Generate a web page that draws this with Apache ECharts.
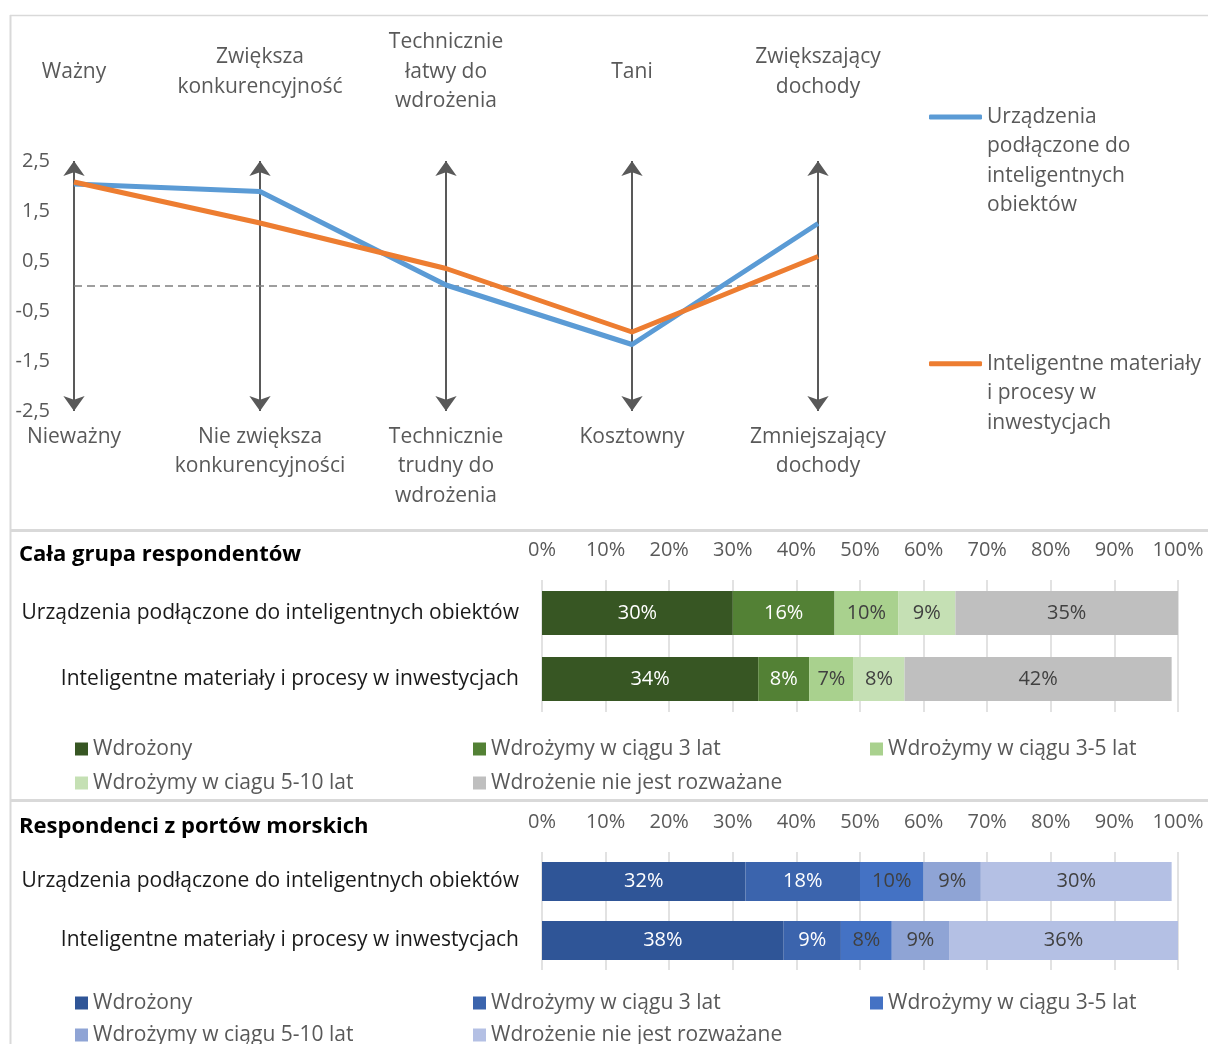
<!DOCTYPE html>
<html>
<head>
<meta charset="utf-8">
<script src="https://cdn.jsdelivr.net/npm/echarts@6/dist/echarts.min.js"></script>
<style>
  html, body { margin: 0; padding: 0; background: #ffffff; }
  #chart { width: 1208px; height: 1044px; }
</style>
</head>
<body>
<div id="chart"></div>
<script>
// ---- Perception profile (semantic differential) ----
const positivePoles = ['Ważny', 'Zwiększa\nkonkurencyjność', 'Technicznie\nłatwy do\nwdrożenia', 'Tani', 'Zwiększający\ndochody'];
const negativePoles = ['Nieważny', 'Nie zwiększa\nkonkurencyjności', 'Technicznie\ntrudny do\nwdrożenia', 'Kosztowny', 'Zmniejszający\ndochody'];
const technologyNames = ['Urządzenia podłączone do inteligentnych obiektów', 'Inteligentne materiały i procesy w inwestycjach'];
const technologyLegendText = ['Urządzenia\npodłączone do\ninteligentnych\nobiektów', 'Inteligentne materiały\ni procesy w\ninwestycjach'];
const devicesScores = [2.04, 1.89, 0.02, -1.17, 1.25];
const materialsScores = [2.08, 1.26, 0.35, -0.92, 0.59];
const scoreMin = -2.5;
const scoreMax = 2.5;

// ---- Implementation status (% of respondents) ----
const barCategories = ['Urządzenia podłączone do inteligentnych obiektów', 'Inteligentne materiały i procesy w inwestycjach'];
const allGroupTitle = 'Cała grupa respondentów';
const portsTitle = 'Respondenci z portów morskich';
const allStatusNames = ['Wdrożony', 'Wdrożymy w ciągu 3 lat', 'Wdrożymy w ciągu 3-5 lat', 'Wdrożymy w ciagu 5-10 lat', 'Wdrożenie nie jest rozważane'];
const portStatusNames = ['Wdrożony', 'Wdrożymy w ciągu 3 lat', 'Wdrożymy w ciągu 3-5 lat', 'Wdrożymy w ciągu 5-10 lat', 'Wdrożenie nie jest rozważane'];
// one array per status, values for [devices, materials]
const allImplemented = [30, 34];
const allWithin3 = [16, 8];
const allWithin3to5 = [10, 7];
const allWithin5to10 = [9, 8];
const allNotConsidered = [35, 42];
const portImplemented = [32, 38];
const portWithin3 = [18, 9];
const portWithin3to5 = [10, 8];
const portWithin5to10 = [9, 9];
const portNotConsidered = [30, 36];

const allValues = [allImplemented, allWithin3, allWithin3to5, allWithin5to10, allNotConsidered];
const portValues = [portImplemented, portWithin3, portWithin3to5, portWithin5to10, portNotConsidered];

const FONT = '"Open Sans", "Noto Sans", sans-serif';
const GREY_TEXT = '#595959';
const greenColors = ['#375623', '#538135', '#A9D18E', '#C5E0B4', '#BFBFBF'];
const blueColors = ['#2F5597', '#3B64AD', '#4472C4', '#8FA4D5', '#B4C0E4'];
const labelColors = ['#ffffff', '#ffffff', '#404040', '#404040', '#404040'];
const lineColors = ['#5B9BD5', '#ED7D31'];

const chart = echarts.init(document.getElementById('chart'), null, { renderer: 'canvas' });

function commaNumber(v) {
  return v.toFixed(1).replace('.', ',');
}

function statusSeries(names, values, colors, stack, xIdx, yIdx, barWidth) {
  return names.map((name, i) => ({
    type: 'bar',
    name: name,
    stack: stack,
    xAxisIndex: xIdx,
    yAxisIndex: yIdx,
    barWidth: barWidth,
    data: values[i],
    itemStyle: { color: colors[i] },
    label: {
      show: true,
      position: 'inside',
      formatter: p => p.value + '%',
      fontFamily: FONT,
      fontSize: 20,
      color: labelColors[i]
    },
    emphasis: { disabled: true },
    silent: true
  }));
}

// Three legend columns per bar panel
function statusLegends(names, colors, top, gap) {
  const columns = [[0, 3], [1, 4], [2]];
  const lefts = [75, 473, 870];
  return columns.map((idx, c) => ({
    orient: 'vertical',
    left: lefts[c],
    top: top,
    height: 120,
    padding: 0,
    itemWidth: 13,
    itemHeight: 13,
    itemGap: gap,
    itemTextGap: 5,
    icon: 'rect',
    selectedMode: false,
    data: idx.map(i => ({ name: names[i], itemStyle: { color: colors[i] } })),
    textStyle: { fontFamily: FONT, fontSize: 21, color: GREY_TEXT, lineHeight: 24 }
  }));
}

function percentAxis(gridIndex) {
  return {
    type: 'value',
    gridIndex: gridIndex,
    position: 'top',
    min: 0,
    max: 100,
    interval: 10,
    axisLine: { show: false },
    axisTick: { show: false },
    axisLabel: { formatter: '{value}%', fontFamily: FONT, fontSize: 20, color: GREY_TEXT, margin: 20 },
    splitLine: { show: true, lineStyle: { color: '#D9D9D9', width: 1.5 } }
  };
}

function categoryAxis(gridIndex) {
  return {
    type: 'category',
    gridIndex: gridIndex,
    inverse: true,
    data: barCategories,
    axisLine: { show: false },
    axisTick: { show: false },
    axisLabel: { fontFamily: FONT, fontSize: 21, color: '#1A1A1A', margin: 23 }
  };
}

// Legend text is padded with leading blank lines so the icon sits beside the first line
function legendText(name) {
  const text = technologyLegendText[technologyNames.indexOf(name)];
  const lines = text.split('\n').length;
  return '\n'.repeat(lines - 1) + text;
}

const lineLegendCommon = {
  orient: 'vertical',
  left: 929,
  padding: 0,
  itemWidth: 53,
  itemHeight: 5,
  itemTextGap: 4,
  icon: 'roundRect',
  selectedMode: false,
  formatter: legendText,
  textStyle: { fontFamily: FONT, fontSize: 21, color: GREY_TEXT, lineHeight: 29.5 }
};

const option = {
  backgroundColor: '#ffffff',
  animation: false,
  textStyle: { fontFamily: FONT },
  title: [
    { text: allGroupTitle, left: 19, top: 544, padding: 0,
      textStyle: { fontFamily: FONT, fontSize: 22, fontWeight: 'bold', color: '#000000' } },
    { text: portsTitle, left: 19, top: 816, padding: 0,
      textStyle: { fontFamily: FONT, fontSize: 22, fontWeight: 'bold', color: '#000000' } }
  ],
  legend: [
    Object.assign({}, lineLegendCommon, { top: 13.75, data: [{ name: technologyNames[0] }] }),
    Object.assign({}, lineLegendCommon, { top: 290, data: [{ name: technologyNames[1] }] })
  ].concat(statusLegends(allStatusNames, greenColors, 737, 10))
   .concat(statusLegends(portStatusNames, blueColors, 991, 8)),
  grid: [
    { left: 74, top: 161, width: 744, height: 250, containLabel: false, outerBoundsMode: 'none' },
    { left: 542, top: 580, width: 636, height: 132, containLabel: false, outerBoundsMode: 'none' },
    { left: 542, top: 852, width: 636, height: 118, containLabel: false, outerBoundsMode: 'none' }
  ],
  xAxis: [
    {
      type: 'category',
      gridIndex: 0,
      position: 'bottom',
      boundaryGap: false,
      data: negativePoles,
      axisLine: { show: false },
      axisTick: { show: false },
      axisLabel: { fontFamily: FONT, fontSize: 21, color: GREY_TEXT, margin: 11, verticalAlign: 'top', lineHeight: 29.5, interval: 0 }
    },
    {
      type: 'category',
      gridIndex: 0,
      position: 'top',
      boundaryGap: false,
      data: positivePoles,
      axisLine: { show: false },
      axisTick: { show: false },
      axisLabel: { fontFamily: FONT, fontSize: 21, color: GREY_TEXT, margin: 89, verticalAlign: 'middle', lineHeight: 29.5, interval: 0 }
    },
    percentAxis(1),
    percentAxis(2)
  ],
  yAxis: [
    {
      type: 'value',
      gridIndex: 0,
      min: scoreMin,
      max: scoreMax,
      interval: 1,
      axisLine: { show: false },
      axisTick: { show: false },
      splitLine: { show: false },
      axisLabel: { formatter: commaNumber, fontFamily: FONT, fontSize: 20, color: GREY_TEXT, margin: 24 }
    },
    categoryAxis(1),
    categoryAxis(2)
  ],
  graphic: [
    { type: 'line', shape: { x1: 10, y1: 15.5, x2: 1208, y2: 15.5 }, style: { stroke: '#D9D9D9', lineWidth: 1.5 }, silent: true },
    { type: 'line', shape: { x1: 10.5, y1: 15, x2: 10.5, y2: 1044 }, style: { stroke: '#D9D9D9', lineWidth: 2 }, silent: true },
    { type: 'rect', shape: { x: 10, y: 529, width: 1198, height: 3 }, style: { fill: '#D9D9D9' }, silent: true },
    { type: 'rect', shape: { x: 10, y: 799, width: 1198, height: 3 }, style: { fill: '#D9D9D9' }, silent: true }
  ],
  series: [
    // double-headed scale arrows and the neutral reference line
    {
      type: 'line',
      name: 'scale',
      xAxisIndex: 0,
      yAxisIndex: 0,
      data: negativePoles.map(() => null),
      z: 1,
      silent: true,
      markLine: {
        silent: true,
        z: 1,
        symbol: ['arrow', 'arrow'],
        symbolSize: [16, 15],
        label: { show: false },
        emphasis: { disabled: true },
        lineStyle: { color: '#595959', width: 2, type: 'solid' },
        data: negativePoles.map((c, i) => ({ xAxis: i }))
      }
    },
    {
      type: 'line',
      name: 'neutral',
      xAxisIndex: 0,
      yAxisIndex: 0,
      data: negativePoles.map(() => null),
      z: 1,
      silent: true,
      markLine: {
        silent: true,
        z: 1,
        symbol: 'none',
        label: { show: false },
        emphasis: { disabled: true },
        lineStyle: { color: '#7F7F7F', width: 1.5, type: [8, 5] },
        data: [{ yAxis: 0 }]
      }
    },
    {
      type: 'line',
      name: technologyNames[0],
      xAxisIndex: 0,
      yAxisIndex: 0,
      data: devicesScores,
      symbol: 'none',
      z: 4,
      color: lineColors[0],
      lineStyle: { width: 5, color: lineColors[0], join: 'round' },
      emphasis: { disabled: true },
      silent: true
    },
    {
      type: 'line',
      name: technologyNames[1],
      xAxisIndex: 0,
      yAxisIndex: 0,
      data: materialsScores,
      symbol: 'none',
      z: 5,
      color: lineColors[1],
      lineStyle: { width: 5, color: lineColors[1], join: 'round' },
      emphasis: { disabled: true },
      silent: true
    }
  ].concat(statusSeries(allStatusNames, allValues, greenColors, 'all', 2, 1, 44))
   .concat(statusSeries(portStatusNames, portValues, blueColors, 'ports', 3, 2, 39))
};

chart.setOption(option);
</script>
</body>
</html>
